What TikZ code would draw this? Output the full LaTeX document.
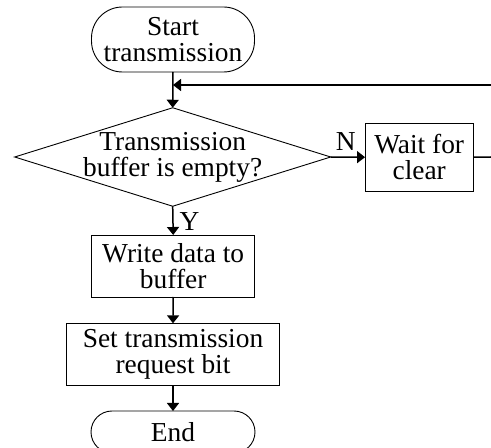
\documentclass[tikz,border=0pt]{standalone}
\usepackage{fontspec}
\setmainfont{Liberation Serif}
\usetikzlibrary{arrows.meta,shapes.geometric}
\begin{document}
\begin{tikzpicture}[x=1pt,y=1pt,
  every node/.style={font=\fontsize{27.4}{26}\selectfont},
  box/.style={draw,line width=0.9pt,inner sep=0pt,outer sep=0pt,align=center},
  term/.style={box},
  flow/.style={line width=1.5pt,-{Triangle[length=8pt,width=12pt]}},
  plain/.style={line width=1.5pt}]
\useasboundingbox (0,0) rectangle (491,448);
\clip (0,0) rectangle (491,448);
% nodes
\node[term,rounded corners=31pt,minimum width=163pt,minimum height=65pt] (start) at (173,408.5) {Start\\transmission};
\node[box,shape=diamond,minimum width=316pt,minimum height=98.5pt] (dec) at (172.7,291) {};
\node[align=center,inner sep=0pt] (dectext) at (dec.center) {Transmission\\buffer is empty?};
\node[box,minimum width=108.3pt,minimum height=67.7pt] (wait) at (419.2,290.8) {Wait for\\clear};
\node[box,minimum width=163pt,minimum height=62pt] (write) at (173.2,182) {Write data to\\buffer};
\node[box,minimum width=212.6pt,minimum height=61.7pt] (set) at (173,93.8) {Set transmission\\request bit};
\node[term,rounded corners=21pt,minimum width=164pt,minimum height=42pt] (end) at (173,16) {End};
% labels
\node[inner sep=0pt] (nlab) at (345.7,306.3) {N};
\node[inner sep=0pt] (ylab) at (189.5,226.3) {Y};
% edge coordinates
\coordinate (rout) at (491,291);
\coordinate (rin) at (491,363);
% connectors
\draw[flow] (start.south) -- (dec.north);
\draw[flow] (dec.east) -- (wait.west);
\draw[plain] (wait.east) -- (rout);
\draw[flow] (rin) -- (start.south |- rin);
\draw[flow] (dec.south) -- (write.north);
\draw[flow] (write.south) -- (set.north);
\draw[flow] (set.south) -- (end.north);
\end{tikzpicture}
\end{document}
